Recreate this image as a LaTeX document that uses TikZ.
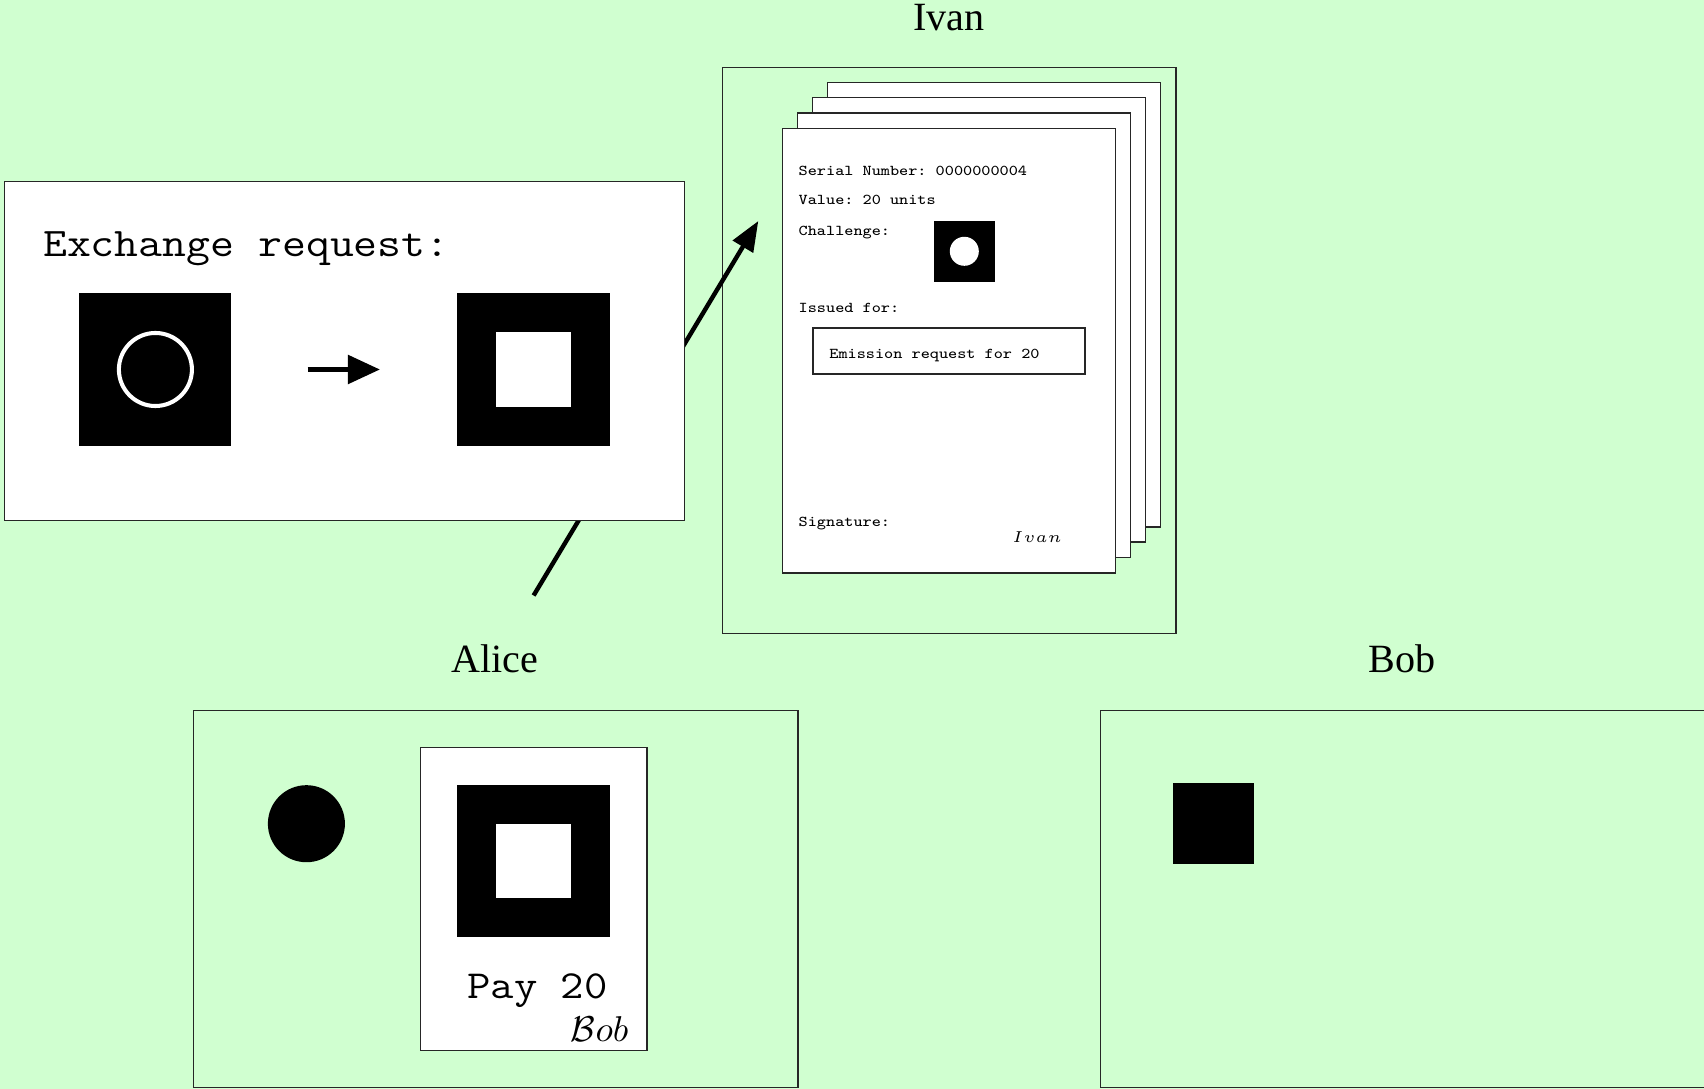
\RequirePackage{fix-cm}
\documentclass[tikz,border=0pt]{standalone}
\usepackage{fontspec}
\usepackage{graphicx}
\setmainfont{Liberation Serif}
% Courier-like typewriter text: Latin Modern Mono widened to Courier proportions
\newcommand{\monotext}[1]{\scalebox{1.143}[1]{\ttfamily\frenchspacing #1}}
\usetikzlibrary{arrows.meta,fit}
\definecolor{bg}{RGB}{208,255,208}

\begin{document}
\begin{tikzpicture}[x=0.01cm,y=-0.01cm,
  panel/.style={draw=black!85,line width=0.4pt,inner sep=0,outer sep=0},
  paper/.style={panel,fill=white},
  blk/.style={fill=black,inner sep=0,outer sep=0,minimum size=#1},
  dot/.style={circle,fill=#1,inner sep=0,outer sep=0},
  who/.style={font=\fontsize{11.4}{13}\selectfont,anchor=base,inner sep=0},
  small/.style={font=\fontsize{4.28}{5}\selectfont,anchor=base west,inner sep=0},
  big/.style={font=\fontsize{11.3}{13}\selectfont,inner sep=0},
  push/.style={line width=1.25pt,-{Triangle[length=0.30cm,width=0.23cm]}},
]
% background
\fill[bg] (0,0) rectangle (1704,1089);
\useasboundingbox (0,0) rectangle (1704,1089);

% ---------- Ivan ----------
\node[who] (ivanlbl) at (949,31) {Ivan};
\node[panel,fit={(722.6,67.4)(1175.8,633.6)}] (ivanbox) {};
\foreach \k in {3,2,1} {
  \node[paper,fit={(782.7+15*\k,128.5-15.4*\k)(1115.5+15*\k,573-15.4*\k)}] (page\k) {};
}
\node[paper,fit={(782.7,128.5)(1115.5,573)}] (card) {};
\node[small] (serial) at (798,175.4) {\monotext{Serial Number: 0000000004}};
\node[small] (value) at (798,205) {\monotext{Value: 20 units}};
\node[small] (chal) at (798,236) {\monotext{Challenge:}};
\node[blk=0.61cm] (chalsq) at (964.3,251.3) {};
\node[dot=white,minimum size=0.29cm] (chaldot) at (964.3,251.3) {};
\node[small] (issued) at (798,313) {\monotext{Issued for:}};
\node[paper,fit={(812.8,328)(1085,374)}] (emisbox) {};
\node[small] (emis) at (828.7,359) {\monotext{Emission request for 20}};
\node[small] (sig) at (798,527) {\monotext{Signature:}};
\node[anchor=base west,inner sep=0,font=\fontsize{4.5}{5}\selectfont] (ivansig) at (1011.7,543) {$Ivan$};

% ---------- request sent to Ivan ----------
\coordinate (reqfrom) at (533.6,595.5);
\coordinate (reqto) at (758.3,221);
\draw[push] (reqfrom) -- (reqto);

\node[paper,fit={(4.3,181.5)(684.6,520.5)}] (exch) {};
\node[big,anchor=base west,font=\fontsize{11.55}{13}\selectfont] (exchtxt) at (42.4,257) {\monotext{Exchange request:}};
\node[blk=1.52cm] (oldsq) at (155.4,369.5) {};
\node[circle,draw=white,line width=1.15pt,inner sep=0,minimum size=0.73cm] (oldring) at (155.4,369.5) {};
\node[blk=1.52cm] (newsq) at (533.5,369.5) {};
\node[fill=white,inner sep=0,minimum size=0.74cm] (newhole) at (533.5,369.5) {};
\coordinate (xa) at (307.5,369.5);
\coordinate (xb) at (380,369.5);
\draw[line width=1.5pt,-{Triangle[length=0.32cm,width=0.28cm]}] (xa) -- (xb);

% ---------- Alice ----------
\node[who] (alicelbl) at (495,672.3) {Alice};
\node[panel,fit={(193.5,710.4)(798,1087.5)}] (alicebox) {};
\node[dot=black,minimum size=0.77cm] (coin) at (306.4,823.7) {};
\node[paper,fit={(420.5,747.6)(647,1050.5)}] (cheque) {};
\node[blk=1.52cm] (chqsq) at (533.5,861.3) {};
\node[fill=white,inner sep=0,minimum size=0.74cm] (chqhole) at (533.5,861.3) {};
\node[big,anchor=base] (pay) at (537.4,998.3) {\monotext{Pay 20}};
\node[anchor=base east,inner sep=0,font=\fontsize{10.2}{12}\selectfont] (bobsig) at (629,1041.7) {$\mathcal{B}ob$};

% ---------- Bob ----------
\node[who] (boblbl) at (1402,672.3) {Bob};
\node[panel,fit={(1100.5,710.4)(1720,1087.5)}] (bobbox) {};
\node[blk=0.81cm] (bobsq) at (1213.9,823.7) {};
\end{tikzpicture}
\end{document}
